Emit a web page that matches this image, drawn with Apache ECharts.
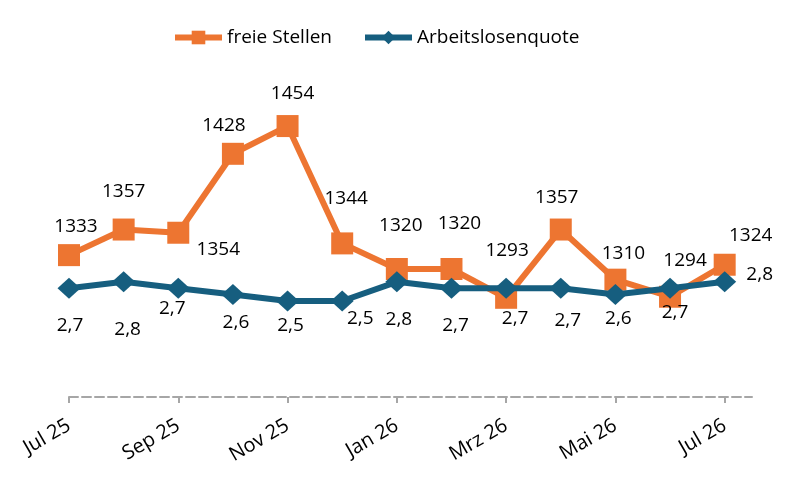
<!DOCTYPE html>
<html><head><meta charset="utf-8">
<script src="https://cdn.jsdelivr.net/npm/echarts@6/dist/echarts.min.js"></script>
<style>html,body{margin:0;padding:0;background:#fff}#c{width:800px;height:481px}</style>
</head><body><div id="c"></div>
<script>
const categories = ['Jul 25','Aug 25','Sep 25','Okt 25','Nov 25','Dez 25','Jan 26','Feb 26','Mrz 26','Apr 26','Mai 26','Jun 26','Jul 26'];
const freieStellen = [1333,1357,1354,1428,1454,1344,1320,1320,1293,1357,1310,1294,1324];
const arbeitslosenquote = [2.7,2.8,2.7,2.6,2.5,2.5,2.8,2.7,2.7,2.7,2.6,2.7,2.8];
const tickIndices = [0,2,4,6,8,10,12];

// label placement (style only)
const stellenOffsets = [[7,-29],[0,-38],[40,17],[-9,-28],[5,-32],[4,-45],[4,-43],[8,-45],[1,-47],[-4,-32],[8,-26],[15,-36],[26,-29]];
const quoteOffsets = [[1,37],[4,48],[-6,20],[3,28],[3,25],[18,18],[2,38],[4,37],[9,30],[7,32],[3,24],[5,24],[35,-7]];

const FONT = '"Open Sans", sans-serif';
const ORANGE = '#ED7531';
const BLUE = '#165E7F';

const chart = echarts.init(document.getElementById('c'), null, {renderer:'canvas'});
chart.setOption({
  animation: false,
  backgroundColor: '#fff',
  textStyle: {fontFamily: FONT},
  legend: {
    left: 167, top: 23,
    itemWidth: 47, itemHeight: 17, itemGap: 30,
    lineStyle: {width: 6},
    textStyle: {fontSize: 19, color: '#000', fontFamily: FONT},
    data: ['freie Stellen', 'Arbeitslosenquote']
  },
  grid: {left: 69, right: 48, top: 77, bottom: 84, outerBoundsMode: 'none'},
  xAxis: {
    type: 'value', min: 0, max: 12.5,
    splitLine: {show: false},
    axisLine: {show: true, lineStyle: {color: '#A6A6A6', width: 2, type: [9,4]}},
    axisTick: {show: true, customValues: tickIndices, length: 6, lineStyle: {color: '#A6A6A6', width: 2}},
    axisLabel: {
      customValues: tickIndices,
      formatter: v => categories[v] || '',
      rotate: 30, margin: 27, fontSize: 20, color: '#000', fontFamily: FONT
    }
  },
  yAxis: [
    {type: 'value', min: 1200, max: 1500, show: false, splitLine: {show: false}},
    {type: 'value', min: 1, max: 6, show: false, splitLine: {show: false}}
  ],
  series: [
    {
      name: 'freie Stellen', type: 'line', yAxisIndex: 0,
      symbol: 'rect', symbolSize: 22,
      lineStyle: {color: ORANGE, width: 6},
      itemStyle: {color: ORANGE},
      label: {show: true, position: 'inside', fontSize: 19, color: '#000', fontFamily: FONT,
        formatter: p => String(p.value[1])},
      data: freieStellen.map((v,i) => ({value: [i, v], label: {offset: stellenOffsets[i]}})),
      z: 2
    },
    {
      name: 'Arbeitslosenquote', type: 'line', yAxisIndex: 1,
      symbol: 'diamond', symbolSize: [23,21],
      lineStyle: {color: BLUE, width: 6},
      itemStyle: {color: BLUE},
      label: {show: true, position: 'inside', fontSize: 19, color: '#000', fontFamily: FONT,
        formatter: p => p.value[1].toFixed(1).replace('.', ',')},
      data: arbeitslosenquote.map((v,i) => ({value: [i, v], label: {offset: quoteOffsets[i]}})),
      z: 3
    }
  ]
});
</script>
</body></html>
